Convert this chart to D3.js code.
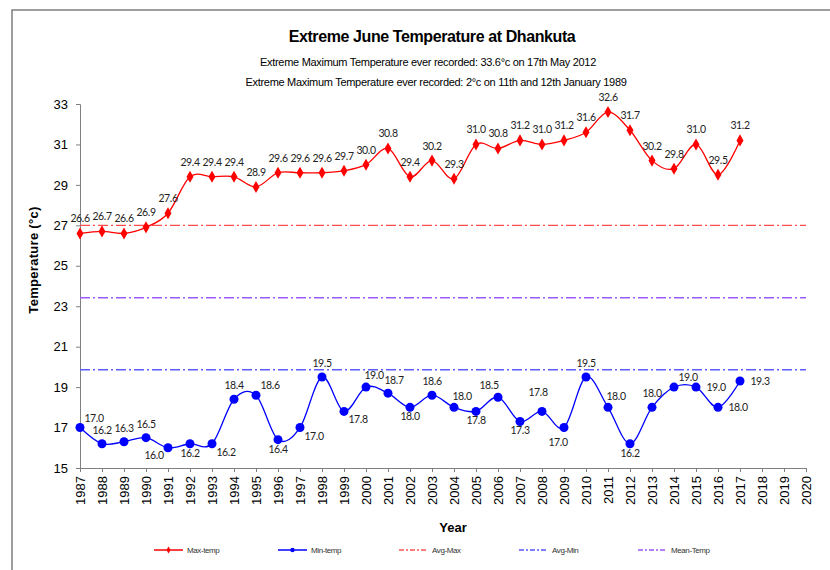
<!DOCTYPE html>
<html><head><meta charset="utf-8">
<script src="https://cdn.jsdelivr.net/npm/d3@7"></script>
<style>body{margin:0;background:#fff}svg{display:block}</style>
</head><body>
<script>
const years = d3.range(1987, 2018);
const yearTicks = d3.range(1987, 2021);
const maxTemp = [26.6,26.7,26.6,26.9,27.6,29.4,29.4,29.4,28.9,29.6,29.6,29.6,29.7,30.0,30.8,29.4,30.2,29.3,31.0,30.8,31.2,31.0,31.2,31.6,32.6,31.7,30.2,29.8,31.0,29.5,31.2];
const minTemp = [17.0,16.2,16.3,16.5,16.0,16.2,16.2,18.4,18.6,16.4,17.0,19.5,17.8,19.0,18.7,18.0,18.6,18.0,17.8,18.5,17.3,17.8,17.0,19.5,18.0,16.2,18.0,19.0,19.0,18.0,19.3];
const avgMax = 27.0, avgMin = 19.86, meanTemp = 23.42;
const yTicks = [15,17,19,21,23,25,27,29,31,33];
const legendNames = ["Max-temp","Min-temp","Avg-Max","Avg-Min","Mean-Temp"];
// label placement for min-temp data labels (manual Excel placement)
const minLabelPos = ["ur","a","a","a","bl","b","br","a","ur","b","br","a","br","au","a7","b","a","ar","b","al","b","a2","b2","a","ar","b","a","ur","r","r","r"];

const W = 830, H = 570;
const svg = d3.select("body").append("svg").attr("width", W).attr("height", H);
const fnt = "'Liberation Sans', Arial, sans-serif";
const lblFont = "Lato, 'Open Sans', sans-serif";

// frame
svg.append("path").attr("d", `M12,${H+5} L12,10 L${W+5},10`).attr("fill","none").attr("stroke","#7f7f7f").attr("stroke-width",1.5);

const x = d3.scaleLinear().domain([1987, 2020]).range([80, 806]);
const y = d3.scaleLinear().domain([15, 33]).range([468, 104]);

// titles
svg.append("text").attr("x", 432).attr("y", 42).attr("text-anchor","middle")
  .attr("font-family", fnt).attr("font-weight","bold").attr("font-size", 16).attr("letter-spacing", -0.4)
  .text("Extreme June Temperature at Dhankuta");
svg.append("text").attr("x", 428).attr("y", 66).attr("text-anchor","middle")
  .attr("font-family", fnt).attr("font-size", 11).attr("letter-spacing", -0.3)
  .text("Extreme Maximum Temperature ever recorded: 33.6°c on 17th May 2012");
svg.append("text").attr("x", 436).attr("y", 86).attr("text-anchor","middle")
  .attr("font-family", fnt).attr("font-size", 11).attr("letter-spacing", -0.3)
  .text("Extreme Maximum Temperature ever recorded: 2°c on 11th and 12th January 1989");

// axes
const yAxis = svg.append("g").attr("transform","translate(80,0)")
  .call(d3.axisLeft(y).tickValues(yTicks).tickSize(4).tickPadding(8));
yAxis.selectAll("text").attr("font-family", fnt).attr("font-size", 13).attr("fill","#000");
yAxis.selectAll("line,path").attr("stroke","#808080");

const xAxis = svg.append("g").attr("transform","translate(0,468)")
  .call(d3.axisBottom(x).tickValues(yearTicks).tickFormat(d3.format("d")).tickSize(4).tickSizeOuter(0));
xAxis.selectAll("line,path").attr("stroke","#808080");
xAxis.selectAll("text").attr("font-family", fnt).attr("font-size", 13).attr("fill","#000")
  .attr("transform","rotate(-90)").attr("text-anchor","end").attr("dy","0.35em").attr("x",-8).attr("y",0);

svg.append("text").attr("transform","translate(38,260) rotate(-90)").attr("text-anchor","middle")
  .attr("font-family", fnt).attr("font-weight","bold").attr("font-size", 13).attr("letter-spacing", 0.3)
  .text("Temperature (°c)");
svg.append("text").attr("x", 453).attr("y", 532).attr("text-anchor","middle")
  .attr("font-family", fnt).attr("font-weight","bold").attr("font-size", 13).text("Year");

// reference lines
const refs = [[avgMax, "#ff4d4d"], [meanTemp, "#9a5cff"], [avgMin, "#5c5cff"]];
refs.forEach(([v, c]) => {
  svg.append("line").attr("x1", x(1987)).attr("x2", x(2020)).attr("y1", y(v)).attr("y2", y(v))
    .attr("stroke", c).attr("stroke-width", 1.4).attr("stroke-dasharray","10,3,2,3");
});

const line = d3.line().x((d,i) => x(years[i])).y(d => y(d)).curve(d3.curveCatmullRom.alpha(0));

svg.append("path").datum(maxTemp).attr("d", line).attr("fill","none").attr("stroke","#ff0000").attr("stroke-width",1.3);
svg.append("path").datum(minTemp).attr("d", line).attr("fill","none").attr("stroke","#0000ff").attr("stroke-width",1.3);

const diamond = d3.symbol().type(d3.symbolDiamond).size(42);
svg.selectAll(".mx").data(maxTemp).join("path")
  .attr("transform",(d,i)=>`translate(${x(years[i])},${y(d)})`).attr("d", diamond()).attr("fill","#ff0000");
svg.selectAll(".mn").data(minTemp).join("circle")
  .attr("cx",(d,i)=>x(years[i])).attr("cy", d=>y(d)).attr("r",4.5).attr("fill","#0000ff");

svg.selectAll(".mxl").data(maxTemp).join("text")
  .attr("x",(d,i)=>x(years[i])).attr("y", d=>y(d)-11).attr("text-anchor","middle")
  .attr("font-family", lblFont).attr("font-size", 10.5).attr("letter-spacing", -0.4).attr("fill","#222").text(d=>d.toFixed(1));

const off = {a:[0,-10], a7:[6,-9], a2:[-4,-15], ur:[14,-6], ar:[8,-7], al:[-9,-8], au:[8,-8], b:[0,13], b2:[-6,18], bl:[-14,11], br:[14,12], r:[20,4]};
svg.selectAll(".mnl").data(minTemp).join("text")
  .attr("x",(d,i)=>x(years[i]) + off[minLabelPos[i]][0])
  .attr("y",(d,i)=>y(d) + off[minLabelPos[i]][1]).attr("text-anchor","middle")
  .attr("font-family", lblFont).attr("font-size", 10.5).attr("letter-spacing", -0.4).attr("fill","#222").text(d=>d.toFixed(1));

// legend
const legX = [154, 278, 399, 519, 638];
const legC = ["#ff0000","#0000ff","#ff0000","#0000ff","#6600ff"];
legendNames.forEach((n, i) => {
  const g = svg.append("g").attr("transform", `translate(${legX[i]},550)`);
  const ln = g.append("line").attr("x1",0).attr("x2",29).attr("stroke", legC[i]).attr("stroke-width", i<2?1.5:1.2);
  if (i >= 2) ln.attr("stroke-dasharray","5,2,2,2");
  if (i === 0) g.append("path").attr("transform","translate(14.5,0)").attr("d", d3.symbol().type(d3.symbolDiamond).size(14)()).attr("fill",legC[i]);
  if (i === 1) g.append("circle").attr("cx",14.5).attr("r",2.2).attr("fill",legC[i]);
  g.append("text").attr("x", 33).attr("y", 3).attr("font-family", fnt).attr("font-size", 8).attr("letter-spacing",-0.4)
    .attr("fill","#333").text(n);
});
</script>
</body></html>
